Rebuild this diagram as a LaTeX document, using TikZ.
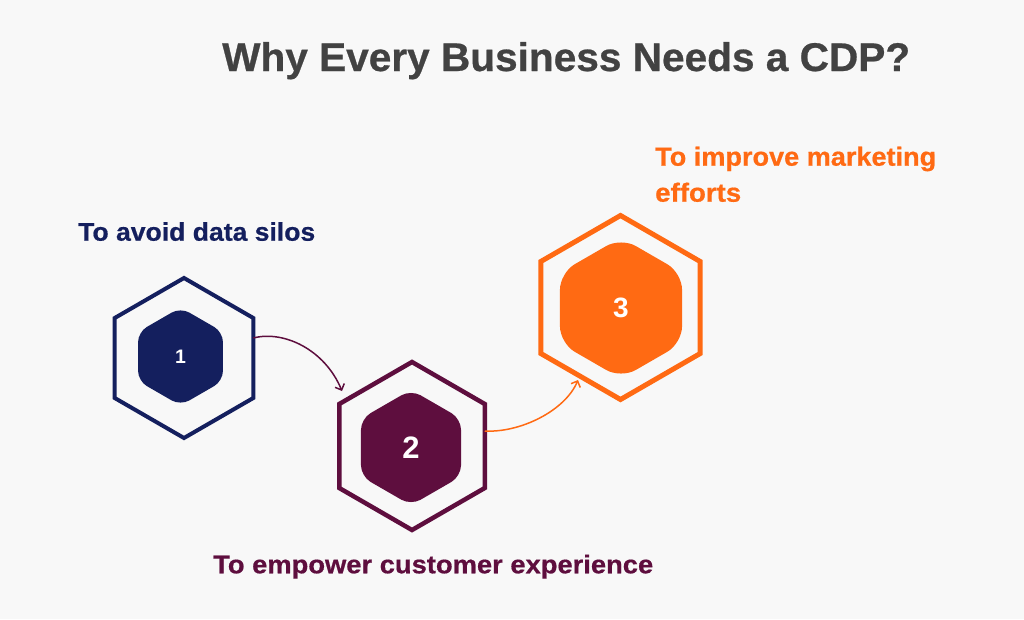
\documentclass[tikz,border=0pt]{standalone}
\usepackage{fontspec}
\usepackage{graphicx}
\setmainfont{Liberation Sans}
\newfontfamily\heavy[FakeBold=0.6]{Liberation Sans Bold}
\usetikzlibrary{shapes.geometric,arrows.meta}
\definecolor{bgc}{HTML}{F8F8F8}
\definecolor{navy}{HTML}{141F5E}
\definecolor{maroon}{HTML}{5E0E3E}
\definecolor{orangec}{HTML}{FF6A13}
\definecolor{titlec}{HTML}{424242}
\begin{document}
\begin{tikzpicture}[x=1pt,y=-1pt,
  outerhex/.style={regular polygon, regular polygon sides=6, shape border rotate=30, inner sep=0pt, outer sep=0pt, fill=bgc},
  innerhex/.style={regular polygon, regular polygon sides=6, shape border rotate=30, inner sep=0pt, outer sep=0pt, text=white},
  lab/.style={anchor=base west, inner sep=0pt, font=\heavy},
  arr/.style={line width=1.5pt, -{Straight Barb[length=5pt,width=10pt,line width=1.5pt]}}
]
\fill[bgc] (0,0) rectangle (1024,619);
\node[lab, text=titlec] (title) at (222,71) {\resizebox{688pt}{29pt}{Why Every Business Needs a CDP?}};
\node[lab, text=navy] (t1) at (78,240.7) {\resizebox{237pt}{18.5pt}{To avoid data silos}};
\node[lab, text=maroon] (t2) at (213,573.3) {\resizebox{440pt}{18.5pt}{To empower customer experience}};
\node[lab, text=orangec] (t3a) at (655,165.7) {\resizebox{281pt}{19pt}{To improve marketing}};
\node[lab, text=orangec] (t3b) at (655,201.7) {\resizebox{86pt}{19pt}{efforts}};

\node[outerhex, draw=navy, line width=4pt, minimum size=160pt] (h1) at (184,358) {};
\node[innerhex, fill=navy, minimum size=98pt, rounded corners=10pt, font=\fontsize{19.5}{20}\selectfont\bfseries] (n1) at (180.5,356.5) {1};

\node[outerhex, draw=maroon, line width=4.5pt, minimum size=168pt] (h2) at (412,446) {};
\node[innerhex, fill=maroon, minimum size=115.5pt, rounded corners=11pt, font=\fontsize{31}{32}\selectfont\bfseries] (n2) at (411,447.5) {2};

\node[outerhex, draw=orangec, line width=5pt, minimum size=184pt] (h3) at (620.5,307.5) {};
\node[innerhex, fill=orangec, minimum size=141pt, rounded corners=17pt, font=\fontsize{28}{29}\selectfont\bfseries] (n3) at (621,308) {3};

\draw[arr, maroon] ([yshift=20pt]h1.east) .. controls +(31,-8) and +(-17,-41) .. ([xshift=-70pt,yshift=55pt]h2.center);
\draw[arr, orangec] ([yshift=15pt]h2.east) .. controls +(35,2) and +(-13,31) .. ([xshift=-42.5pt,yshift=-72.5pt]h3.center);
\end{tikzpicture}
\end{document}
